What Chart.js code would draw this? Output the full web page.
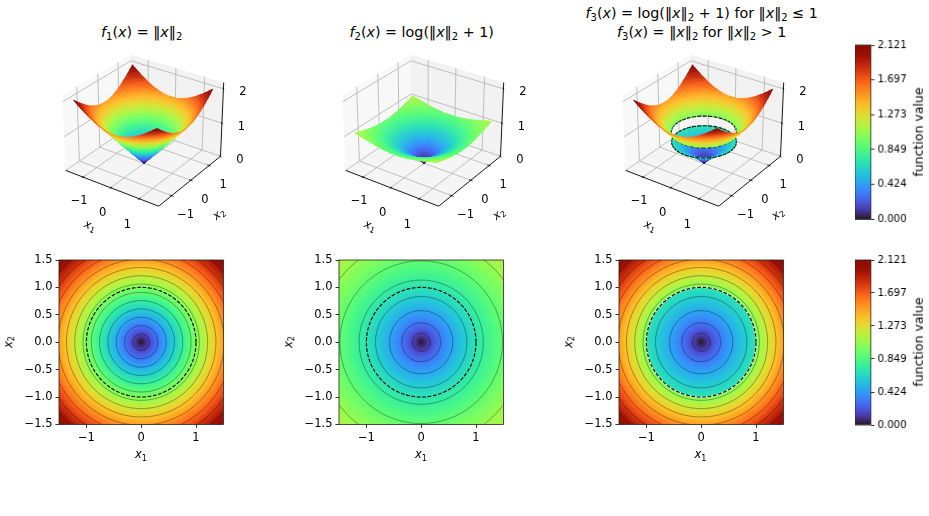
<!DOCTYPE html>
<html>
<head>
<meta charset="utf-8">
<title>Norm surfaces</title>
<script src="https://cdn.jsdelivr.net/npm/chart.js@4"></script>
<style>
body { margin: 0; background: #fff; width: 929px; height: 516px; overflow: hidden; position: relative; }
canvas { position: absolute; }
.lbl { position: absolute; font-family: "DejaVu Sans", sans-serif; color: #000; white-space: nowrap; line-height: 1; }
.lbl i { font-style: oblique; }
.lbl sub { font-size: 70%; vertical-align: -0.28em; line-height: 0; }
</style>
</head>
<body>
<script>
// radial profile of each function: the value at each radius, 1.0 listed twice for the jump in f3
const profileRadius = [0, 0.05, 0.1, 0.15, 0.2, 0.25, 0.3, 0.35, 0.4, 0.45, 0.5, 0.55, 0.6, 0.65, 0.7, 0.75, 0.8, 0.85, 0.9, 0.95, 1, 1,
    1.05, 1.1, 1.15, 1.2, 1.25, 1.3, 1.35, 1.4, 1.45, 1.5, 1.55, 1.6, 1.65, 1.7, 1.75, 1.8, 1.85, 1.9, 1.95, 2, 2.05, 2.1, 2.121];
const f1Values = [0, 0.05, 0.1, 0.15, 0.2, 0.25, 0.3, 0.35, 0.4, 0.45, 0.5, 0.55, 0.6, 0.65, 0.7, 0.75, 0.8, 0.85, 0.9, 0.95, 1, 1,
    1.05, 1.1, 1.15, 1.2, 1.25, 1.3, 1.35, 1.4, 1.45, 1.5, 1.55, 1.6, 1.65, 1.7, 1.75, 1.8, 1.85, 1.9, 1.95, 2, 2.05, 2.1, 2.121];
const f2Values = [0, 0.049, 0.095, 0.14, 0.182, 0.223, 0.262, 0.3, 0.336, 0.372, 0.405, 0.438, 0.47, 0.501, 0.531, 0.56, 0.588, 0.615, 0.642, 0.668, 0.693, 0.693,
    0.718, 0.742, 0.765, 0.788, 0.811, 0.833, 0.854, 0.875, 0.896, 0.916, 0.936, 0.956, 0.975, 0.993, 1.012, 1.03, 1.047, 1.065, 1.082, 1.099, 1.115, 1.131, 1.138];
const f3Values = [0, 0.049, 0.095, 0.14, 0.182, 0.223, 0.262, 0.3, 0.336, 0.372, 0.405, 0.438, 0.47, 0.501, 0.531, 0.56, 0.588, 0.615, 0.642, 0.668, 0.693, 1,
    1.05, 1.1, 1.15, 1.2, 1.25, 1.3, 1.35, 1.4, 1.45, 1.5, 1.55, 1.6, 1.65, 1.7, 1.75, 1.8, 1.85, 1.9, 1.95, 2, 2.05, 2.1, 2.121];

// contour radii in the lower row
const f1Contours = [0.152, 0.303, 0.455, 0.606, 0.758, 0.909, 1.061, 1.212, 1.364, 1.515, 1.667, 1.818, 1.97];
const f2Contours = [0.164, 0.354, 0.576, 0.833, 1.133, 1.484, 1.886];
const f3Contours = [0.164, 0.354, 0.576, 0.833, 1.061, 1.212, 1.364, 1.515, 1.667, 1.818, 1.97];

const unitRadius = 1;
const f3RingHeights = [0.693, 1];

const planeTicks = [-1, 0, 1];
const heightTicks = [0, 1, 2];
const heatTicksX = [-1, 0, 1];
const heatTicksY = [-1.5, -1, -0.5, 0, 0.5, 1, 1.5];
const colorbarTicks = [0, 0.424, 0.849, 1.273, 1.697, 2.121];
const valueMax = 2.121;

const tickFont = { family: "'DejaVu Sans', sans-serif", size: 11.5 };

function turbo(t) {
    t = Math.min(1, Math.max(0, t));
    const t2 = t * t, t3 = t2 * t, t4 = t3 * t, t5 = t4 * t;
    const r = 0.13572138 + 4.6153926 * t - 42.66032258 * t2 + 132.13108234 * t3 - 152.94239396 * t4 + 59.28637943 * t5;
    const g = 0.09140261 + 2.19418839 * t + 4.84296658 * t2 - 14.18503333 * t3 + 4.27729857 * t4 + 2.82956604 * t5;
    const b = 0.1066733 + 12.64194608 * t - 60.58204836 * t2 + 110.36276771 * t3 - 89.90310912 * t4 + 27.34824973 * t5;
    const c = v => Math.round(255 * Math.min(1, Math.max(0, v)));
    return `rgb(${c(r)},${c(g)},${c(b)})`;
}

function addCanvas(left, top, w, h) {
    const box = document.createElement('div');
    box.style.cssText = `position:absolute;left:${left}px;top:${top}px;width:${w}px;height:${h}px`;
    const cv = document.createElement('canvas');
    box.appendChild(cv);
    document.body.appendChild(box);
    return cv;
}

function addLabel(html, cx, cy, size, rotate) {
    const d = document.createElement('div');
    d.className = 'lbl';
    d.innerHTML = html;
    d.style.left = cx + 'px';
    d.style.top = cy + 'px';
    d.style.fontSize = size + 'px';
    d.style.transform = `translate(-50%,-50%) rotate(${rotate || 0}deg)`;
    document.body.appendChild(d);
}

const framePlugin = {
    id: 'frame',
    afterDraw(chart) {
        const a = chart.chartArea, ctx = chart.ctx;
        ctx.save();
        ctx.strokeStyle = '#222';
        ctx.lineWidth = 0.8;
        ctx.strokeRect(a.left, a.top, a.right - a.left, a.bottom - a.top);
        ctx.restore();
    }
};

// ---- lower row: radial colour field with contour circles ----

function circlePoints(r) {
    const pts = [];
    for (let k = 0; k <= 180; k++) {
        const th = k / 180 * 2 * Math.PI;
        pts.push({ x: r * Math.cos(th), y: r * Math.sin(th) });
    }
    return pts;
}

function heatPanel(plotLeft, values, contours, whiteUnder) {
    // the top padding has to clear half a tick label or the plot area gets pushed down
    const plotTop = 260, size = 164.4, padL = 44, padT = 12, padB = 24;
    const cv = addCanvas(plotLeft - padL, plotTop - padT, size + padL + padT, size + padT + padB);

    // a tiny tension keeps the line element off its fast path, which steps on near-vertical runs
    const datasets = contours.map(r => ({
        data: circlePoints(r), showLine: true, pointRadius: 0, order: 3, tension: 0.01,
        borderColor: 'rgba(0,0,0,0.5)', borderWidth: 0.7
    }));
    if (whiteUnder) {
        datasets.push({ data: circlePoints(unitRadius), showLine: true, pointRadius: 0, order: 2, tension: 0.01, borderColor: '#fff', borderWidth: 1.2 });
    }
    datasets.push({ data: circlePoints(unitRadius), showLine: true, pointRadius: 0, order: 1, borderColor: '#000', borderWidth: 1.15, borderDash: [3.7, 1.7] });

    const fieldPlugin = {
        id: 'field',
        beforeDatasetsDraw(chart) {
            const a = chart.chartArea, ctx = chart.ctx, sx = chart.scales.x, sy = chart.scales.y;
            const cx = sx.getPixelForValue(0), cy = sy.getPixelForValue(0);
            const outer = profileRadius[profileRadius.length - 1];
            const g = ctx.createRadialGradient(cx, cy, 0, cx, cy, sx.getPixelForValue(outer) - cx);
            profileRadius.forEach((r, i) => g.addColorStop(r / outer, turbo(values[i] / valueMax)));
            ctx.save();
            ctx.fillStyle = g;
            ctx.fillRect(a.left, a.top, a.right - a.left, a.bottom - a.top);
            ctx.restore();
        }
    };

    new Chart(cv, {
        type: 'scatter',
        data: { datasets },
        options: {
            responsive: true, maintainAspectRatio: false, animation: false,
            layout: { padding: { top: padT, right: padT, left: 0, bottom: 0 } },
            plugins: { legend: { display: false }, tooltip: { enabled: false } },
            scales: {
                x: {
                    min: -1.5, max: 1.5,
                    afterBuildTicks: s => { s.ticks = heatTicksX.map(v => ({ value: v })); },
                    afterFit: s => { s.height = padB; },
                    grid: { drawOnChartArea: false, tickLength: 3.5, tickColor: '#000', tickWidth: 0.8 },
                    border: { display: false },
                    ticks: { font: tickFont, color: '#000', padding: 3, maxRotation: 0, callback: v => String(v).replace('-', '\u2212') }
                },
                y: {
                    min: -1.5, max: 1.5,
                    afterBuildTicks: s => { s.ticks = heatTicksY.map(v => ({ value: v })); },
                    afterFit: s => { s.width = padL; },
                    grid: { drawOnChartArea: false, tickLength: 3.5, tickColor: '#000', tickWidth: 0.8 },
                    border: { display: false },
                    ticks: { font: tickFont, color: '#000', padding: 3, callback: v => v.toFixed(1).replace('-', '\u2212') }
                }
            }
        },
        plugins: [fieldPlugin, framePlugin]
    });

    addLabel('<i>x</i><sub>1</sub>', plotLeft + 82, 455, 11.5);
    addLabel('<i>x</i><sub>2</sub>', plotLeft - 50, 342, 11.5, -90);
}

// ---- upper row: surfaces through a perspective camera ----

const planeLim = 1.65, heightTop = 2.18;
const elev = 29 * Math.PI / 180, azim = -55 * Math.PI / 180, camDist = 10;
const boxA = 1.1429, boxC = 0.8571;
const surfaceFit = 0.95;
const w3 = [Math.cos(elev) * Math.cos(azim), Math.cos(elev) * Math.sin(azim), Math.sin(elev)];
const u3 = [-Math.sin(azim), Math.cos(azim), 0];
const v3 = [w3[1] * u3[2] - w3[2] * u3[1], w3[2] * u3[0] - w3[0] * u3[2], w3[0] * u3[1] - w3[1] * u3[0]];

function project(x1, x2, z) {
    const dx = x1 / (2 * planeLim) * boxA;
    const dy = x2 / (2 * planeLim) * boxA;
    const dz = (z / heightTop - 0.5) * boxC;
    const sx = dx * u3[0] + dy * u3[1];
    const sy = dx * v3[0] + dy * v3[1] + dz * v3[2];
    const depth = dx * w3[0] + dy * w3[1] + dz * w3[2];
    return { x: sx / (camDist - depth), y: sy / (camDist - depth), depth };
}

function projectMesh(x1, x2, z) {
    return project(surfaceFit * x1, surfaceFit * x2, surfaceFit * z);
}

function valueAtRadius(r, values) {
    for (let j = 0; j < profileRadius.length - 1; j++) {
        const a = profileRadius[j], b = profileRadius[j + 1];
        if (r <= b && b > a) return values[j] + (values[j + 1] - values[j]) * (r - a) / (b - a);
    }
    return values[values.length - 1];
}

// quads on a polar mesh, trimmed to the square domain
function buildSurface(values) {
    const polys = [];
    const sectors = 120, edge = 1.5;
    const reach = th => edge / Math.max(Math.abs(Math.cos(th)), Math.abs(Math.sin(th)));
    for (let i = 0; i < profileRadius.length - 1; i++) {
        const r0 = profileRadius[i], r1 = profileRadius[i + 1];
        if (r0 === r1) continue;
        for (let k = 0; k < sectors; k++) {
            const t0 = k / sectors * 2 * Math.PI, t1 = (k + 1) / sectors * 2 * Math.PI;
            const R0 = reach(t0), R1 = reach(t1);
            if (r0 >= R0 && r0 >= R1) continue;
            const corner = (r, idx, th, R) => {
                const rho = Math.min(r, R);
                const z = r <= R ? values[idx] : valueAtRadius(R, values);
                return { p: projectMesh(rho * Math.cos(th), rho * Math.sin(th), z), z };
            };
            const cs = [corner(r0, i, t0, R0), corner(r1, i + 1, t0, R0), corner(r1, i + 1, t1, R1), corner(r0, i, t1, R1)];
            const meanZ = cs.reduce((s, c) => s + c.z, 0) / 4;
            const depth = cs.reduce((s, c) => s + c.p.depth, 0) / 4;
            polys.push({ pts: cs.map(c => c.p), color: turbo(meanZ / valueMax), depth });
        }
    }
    return polys;
}

// dashed circle pieces, sorted in with the quads
function buildRing(height) {
    const parts = [], steps = 144;
    for (let k = 0; k < steps; k++) {
        if (k % 4 === 3) continue;
        const t0 = k / steps * 2 * Math.PI, t1 = (k + 1) / steps * 2 * Math.PI;
        const a = projectMesh(unitRadius * Math.cos(t0), unitRadius * Math.sin(t0), height);
        const b = projectMesh(unitRadius * Math.cos(t1), unitRadius * Math.sin(t1), height);
        parts.push({ pts: [a, b], line: true, depth: (a.depth + b.depth) / 2 + 0.012 });
    }
    return parts;
}

function seg(a, b) {
    return [project(a[0], a[1], a[2]), project(b[0], b[1], b[2])];
}

function surfacePanel(shift, values, ringHeights) {
    const centerPx = 144 + shift, left = 40 + shift, top = 40, w = 220, h = 200, px = 993, zeroY = 126.8;
    const cv = addCanvas(left, top, w, h);
    const L = planeLim, Z = heightTop;
    const line = (pts, color, width, order) => ({ data: pts, showLine: true, pointRadius: 0, borderColor: color, borderWidth: width, order });
    const pane = (corners, color) => ({
        data: corners.map(c => project(c[0], c[1], c[2])), showLine: true, pointRadius: 0,
        borderColor: 'rgba(0,0,0,0)', borderWidth: 0, backgroundColor: color, fill: 'shape', order: 5
    });

    const datasets = [
        pane([[-L, -L, 0], [-L, L, 0], [-L, L, Z], [-L, -L, Z]], 'rgba(242,242,242,0.5)'),
        pane([[-L, L, 0], [L, L, 0], [L, L, Z], [-L, L, Z]], 'rgba(230,230,230,0.5)'),
        pane([[-L, -L, 0], [L, -L, 0], [L, L, 0], [-L, L, 0]], 'rgba(236,236,236,0.5)')
    ];
    const gridColor = '#b9b9b9';
    planeTicks.forEach(t => {
        datasets.push(line(seg([t, -L, 0], [t, L, 0]), gridColor, 0.9, 3));
        datasets.push(line(seg([t, L, 0], [t, L, Z]), gridColor, 0.9, 3));
        datasets.push(line(seg([-L, t, 0], [L, t, 0]), gridColor, 0.9, 3));
        datasets.push(line(seg([-L, t, 0], [-L, t, Z]), gridColor, 0.9, 3));
        datasets.push(line(seg([t, -L - 0.06, 0], [t, -L + 0.06, 0]), '#000', 0.8, 1));
        datasets.push(line(seg([L - 0.06, t, 0], [L + 0.06, t, 0]), '#000', 0.8, 1));
    });
    heightTicks.forEach(t => {
        datasets.push(line(seg([-L, -L, t], [-L, L, t]), gridColor, 0.9, 3));
        datasets.push(line(seg([-L, L, t], [L, L, t]), gridColor, 0.9, 3));
        datasets.push(line(seg([L - 0.05, L + 0.05, t], [L + 0.05, L - 0.05, t]), '#000', 0.8, 1));
    });
    datasets.push(line(seg([-L, -L, 0], [L, -L, 0]), '#000', 0.9, 1));
    datasets.push(line(seg([L, -L, 0], [L, L, 0]), '#000', 0.9, 1));
    datasets.push(line(seg([L, L, 0], [L, L, Z]), '#000', 0.9, 1));

    let prims = buildSurface(values);
    ringHeights.forEach(z => { prims = prims.concat(buildRing(z)); });
    prims.sort((a, b) => a.depth - b.depth);

    const surfacePlugin = {
        id: 'surface',
        afterDatasetsDraw(chart) {
            const ctx = chart.ctx, sx = chart.scales.x, sy = chart.scales.y;
            ctx.save();
            ctx.lineJoin = 'round';
            prims.forEach(p => {
                ctx.beginPath();
                p.pts.forEach((q, i) => {
                    const X = sx.getPixelForValue(q.x), Y = sy.getPixelForValue(q.y);
                    if (i === 0) ctx.moveTo(X, Y); else ctx.lineTo(X, Y);
                });
                if (p.line) {
                    ctx.strokeStyle = '#000';
                    ctx.lineWidth = 1.2;
                    ctx.stroke();
                } else {
                    ctx.closePath();
                    ctx.fillStyle = p.color;
                    ctx.strokeStyle = p.color;
                    ctx.lineWidth = 0.5;
                    ctx.fill();
                    ctx.stroke();
                }
            });

            // tick labels sit a fixed offset away from each tick
            ctx.fillStyle = '#000';
            ctx.font = "11.5px 'DejaVu Sans', sans-serif";
            ctx.textAlign = 'center';
            ctx.textBaseline = 'middle';
            const put = (txt, q, dx, dy) => ctx.fillText(String(txt).replace('-', '\u2212'), sx.getPixelForValue(q.x) + dx, sy.getPixelForValue(q.y) + dy);
            planeTicks.forEach(t => {
                put(t, project(t, -L, 0), -8 - 4 * t, 25 + t);
                put(t, project(L, t, 0), 14, 19.5);
            });
            heightTicks.forEach(t => put(t, project(L, L, t), 19.5, 3.5));
            ctx.restore();
        }
    };

    new Chart(cv, {
        type: 'scatter',
        data: { datasets },
        options: {
            responsive: true, maintainAspectRatio: false, animation: false,
            layout: { padding: 0 },
            plugins: { legend: { display: false }, tooltip: { enabled: false } },
            scales: {
                x: { display: false, min: (left - centerPx) / px, max: (left + w - centerPx) / px },
                y: { display: false, min: (zeroY - top - h) / px, max: (zeroY - top) / px }
            }
        },
        plugins: [surfacePlugin]
    });

    addLabel('<i>x</i><sub>1</sub>', 90 + shift, 226, 11.5, 22);
    addLabel('<i>x</i><sub>2</sub>', 218.5 + shift, 214, 11.5, -38);
}

// ---- colour bars ----

function colorbar(top, height) {
    const left = 855, barW = 15.7, padT = 12, axisW = 50;
    const cv = addCanvas(left, top - padT, barW + axisW, height + padT * 2);
    new Chart(cv, {
        type: 'bar',
        data: {
            labels: ['value'],
            datasets: [{
                data: [[0, valueMax]], barPercentage: 1, categoryPercentage: 1, borderWidth: 0,
                backgroundColor: ctx => {
                    const a = ctx.chart.chartArea;
                    if (!a) return '#888';
                    const g = ctx.chart.ctx.createLinearGradient(0, a.bottom, 0, a.top);
                    for (let i = 0; i <= 32; i++) g.addColorStop(i / 32, turbo(i / 32));
                    return g;
                }
            }]
        },
        options: {
            responsive: true, maintainAspectRatio: false, animation: false,
            layout: { padding: { top: padT, bottom: padT, left: 0, right: 0 } },
            plugins: { legend: { display: false }, tooltip: { enabled: false } },
            scales: {
                x: { display: false },
                y: {
                    position: 'right', min: 0, max: valueMax,
                    afterBuildTicks: s => { s.ticks = colorbarTicks.map(v => ({ value: v })); },
                    afterFit: s => { s.width = axisW; },
                    grid: { drawOnChartArea: false, tickLength: 3.5, tickColor: '#000', tickWidth: 0.8 },
                    border: { display: false },
                    ticks: { font: { family: tickFont.family, size: 10 }, color: '#000', padding: 3, callback: v => v.toFixed(3) }
                }
            }
        },
        plugins: [framePlugin]
    });
    addLabel('function value', 918.5, top + height / 2, 12.5, -90);
}

const twoBar = '\u2016<i>x</i>\u2016<sub>2</sub>';
addLabel(`<i>f</i><sub>1</sub>(<i>x</i>) = ${twoBar}`, 141.7, 32, 14.3);
addLabel(`<i>f</i><sub>2</sub>(<i>x</i>) = log(${twoBar} + 1)`, 421.7, 32, 14.3);
addLabel(`<i>f</i><sub>3</sub>(<i>x</i>) = log(${twoBar} + 1) for ${twoBar} \u2264 1`, 701.7, 13, 14.3);
addLabel(`<i>f</i><sub>3</sub>(<i>x</i>) = ${twoBar} for ${twoBar} &gt; 1`, 701.7, 32, 14.3);

surfacePanel(0, f1Values, []);
surfacePanel(280, f2Values, []);
surfacePanel(559.5, f3Values, f3RingHeights);

heatPanel(59, f1Values, f1Contours, false);
heatPanel(339, f2Values, f2Contours, false);
heatPanel(618.5, f3Values, f3Contours, true);

colorbar(45.3, 173.4);
colorbar(259.6, 165);
</script>
</body>
</html>
